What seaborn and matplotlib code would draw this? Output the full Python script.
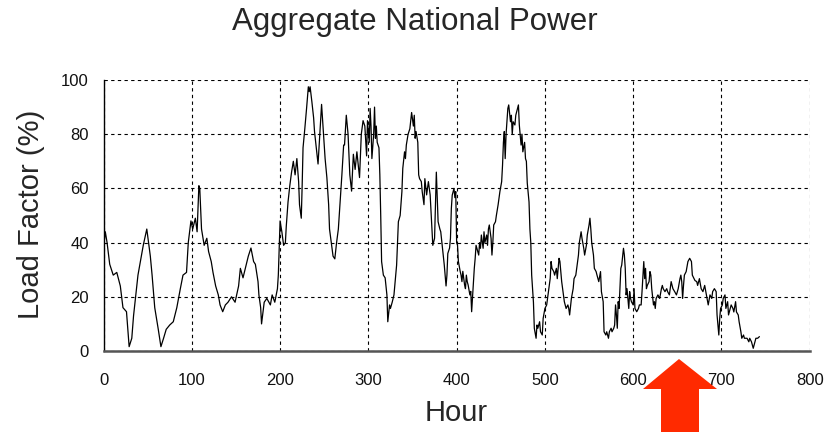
import matplotlib
matplotlib.use("Agg")
import matplotlib.pyplot as plt
from matplotlib.patches import Polygon
import seaborn as sns

# Hourly load factor (hour, %)
hours = [
    0, 2, 4, 7, 11, 15, 19, 22, 26, 29, 32, 34, 39, 45, 49, 53, 55, 58, 62, 65,
    68, 71, 75, 79, 83, 87, 90, 94, 96, 99, 101, 104, 106, 108, 109, 111, 114, 117, 119, 122,
    124, 127, 130, 132, 135, 138, 141, 145, 149, 153, 155, 158, 164, 167, 170, 172, 175, 176, 178, 179,
    182, 185, 189, 191, 194, 197, 198, 200, 202, 204, 206, 207, 209, 211, 213, 215, 217, 219, 221, 222,
    224, 225, 226, 228, 230, 232, 233, 234, 236, 238, 239, 241, 243, 245, 247, 249, 251, 253, 255, 256,
    258, 260, 262, 264, 266, 268, 270, 272, 273, 275, 277, 279, 281, 283, 285, 287, 289, 290, 292, 294,
    296, 298, 299, 301, 302, 303, 304, 306, 307, 308, 309, 310, 312, 313, 314, 315, 317, 319, 321, 322,
    324, 325, 327, 329, 331, 332, 334, 336, 338, 339, 341, 342, 343, 345, 347, 349, 351, 352, 353, 354,
    356, 357, 358, 360, 361, 363, 364, 366, 368, 370, 372, 373, 375, 377, 379, 381, 382, 384, 386, 387,
    388, 389, 390, 392, 393, 394, 395, 397, 398, 399, 400, 401, 402, 404, 405, 406, 407, 409, 410, 411,
    412, 413, 415, 416, 417, 419, 420, 421, 422, 424, 425, 426, 427, 428, 430, 431, 432, 434, 435, 436,
    437, 439, 440, 441, 442, 444, 445, 447, 449, 451, 452, 453, 454, 455, 456, 457, 458, 459, 461, 462,
    463, 464, 466, 467, 468, 470, 471, 473, 474, 475, 477, 478, 479, 480, 482, 483, 484, 485, 487, 488,
    490, 491, 492, 494, 495, 497, 498, 500, 502, 504, 506, 507, 508, 510, 511, 513, 514, 516, 517, 519,
    521, 522, 524, 526, 527, 528, 530, 532, 533, 535, 536, 538, 539, 541, 542, 544, 545, 547, 548, 550,
    551, 552, 553, 555, 556, 558, 559, 561, 563, 564, 566, 567, 569, 570, 572, 573, 575, 576, 578, 579,
    580, 581, 582, 583, 584, 586, 587, 589, 590, 591, 592, 593, 595, 596, 597, 598, 600, 601, 602, 604,
    606, 607, 609, 610, 612, 613, 614, 615, 616, 618, 619, 620, 621, 623, 624, 625, 626, 628, 630, 632,
    633, 634, 636, 638, 639, 641, 643, 645, 647, 649, 651, 653, 654, 655, 656, 657, 658, 660, 662, 664,
    666, 667, 669, 670, 672, 673, 675, 677, 679, 681, 683, 685, 687, 689, 690, 692, 694, 695, 697, 698,
    699, 701, 702, 704, 705, 707, 708, 710, 711, 713, 714, 716, 717, 719, 720, 722, 723, 725, 726, 728,
    729, 731, 732, 734, 736, 738, 739, 741, 743,
]
load_factor = [
    38, 44, 40, 32, 28, 29, 24, 16, 14.5, 1.6, 4.7, 13, 28, 39, 45, 35, 28, 16, 8, 1.6,
    4.7, 8, 9.6, 10.8, 16, 23, 28, 29, 40, 48, 45, 49, 44, 61, 60, 45, 39, 41.6, 36.7, 33,
    29, 24, 20.7, 17, 14.5, 17, 18, 20, 18, 24, 30.5, 27, 35, 38, 33, 32, 25.6, 20.7, 16, 10,
    18, 19.4, 17, 20.7, 18, 23, 28, 48, 44, 39, 40, 46, 55, 61, 66, 70, 65, 71, 62.5, 54,
    49, 61, 75, 82, 89.5, 97.5, 95.7, 97.5, 92, 86, 81, 75, 69, 80, 91, 81, 71, 64, 54, 45,
    40, 35, 34, 40, 45, 55, 65, 76, 76, 87, 80, 65, 59, 72.6, 67, 73.5, 67, 64, 80, 85,
    83, 72, 85, 77, 89.5, 83, 71, 80, 90, 78.5, 83, 77, 75, 65, 50, 33, 28, 27, 20.7, 10.8,
    17, 15.7, 18, 20.7, 28, 31.7, 47.7, 50, 58.8, 67.4, 73.5, 71, 76, 80, 82, 88, 83, 87, 78.5, 81,
    77, 65, 63.6, 62.5, 58.8, 54, 63.6, 57.6, 62.5, 57.6, 45, 39, 41.6, 66, 47.7, 45, 44, 38, 31.7, 28,
    24, 28, 36, 38, 41.6, 52.6, 57.5, 60, 56.6, 58.8, 40, 39, 33, 29.4, 28, 25.6, 29.4, 24.4, 23, 28,
    25.6, 24.4, 20.7, 22, 14.5, 25.6, 30.5, 34.2, 39, 36.7, 35.4, 40, 37.9, 42.8, 37.9, 44, 40, 42.8, 39, 45,
    46.5, 41.6, 35.4, 40, 46.5, 47.7, 50, 54, 58.8, 62.5, 68.6, 77, 81, 71, 80, 84.6, 89.5, 90.8, 84.6, 87,
    80, 84.6, 83.4, 87, 88.3, 90.8, 83.4, 76, 80, 73.5, 77, 71, 70, 62, 55, 45, 40, 28, 18, 8.4,
    4.7, 9.6, 8.4, 10.8, 7.1, 5.9, 12, 15.7, 17, 21.9, 26.8, 33, 30.5, 29.3, 28, 30.5, 26.7, 34.2, 33, 25.6,
    20.7, 18.2, 15.7, 17, 15.7, 13.3, 19.4, 23, 26.7, 28, 30.5, 35.4, 40, 44, 41.6, 37.9, 35.4, 39, 42.8, 46.5,
    49, 45, 40, 35.4, 30.5, 29.3, 28, 25.6, 29.3, 21.9, 18.2, 7.1, 5.9, 7.1, 4.7, 7.1, 8.4, 7.1, 8.4, 9.6,
    17, 13.3, 8.4, 18.2, 15.7, 30.5, 31.7, 37.9, 35.4, 30.5, 20.7, 23, 15.7, 21.9, 19.4, 18.2, 17, 23, 15.7, 14.5,
    15.7, 17, 17, 21.9, 33, 26.7, 30.5, 23, 24.2, 25.6, 29.3, 28, 23, 17, 18.2, 15.7, 19.4, 20.7, 19.4, 23,
    24.2, 23, 21.9, 23, 21.9, 20.7, 25.6, 23, 21.9, 20.7, 23, 26.7, 28, 25.6, 19.4, 24.2, 28, 29.3, 33, 34.2,
    33, 28, 26.7, 26, 25.6, 24.2, 26.7, 23, 21.9, 24.2, 20.7, 17, 20.7, 19.4, 21.9, 23, 21.9, 13.3, 5.9, 12,
    15.7, 17, 19.4, 20.7, 15.7, 18.2, 13.3, 15.7, 17, 15.7, 14.4, 18.2, 14.4, 13.3, 10.8, 7.1, 4.7, 5.9, 4.7, 4.7,
    4.7, 3.4, 4.7, 3.4, 1, 3.4, 4.7, 4.7, 5.3,
]

x_ticks = [0, 100, 200, 300, 400, 500, 600, 700, 800]
y_ticks = [0, 20, 40, 60, 80, 100]

sns.set_style("white")
plt.rcParams["font.family"] = ["Liberation Sans", "DejaVu Sans"]

fig = plt.figure(figsize=(8.25, 4.32), dpi=100)
ax = fig.add_axes([0.1255, 0.1875, 0.856, 0.6273])

sns.lineplot(x=hours, y=load_factor, color="black", linewidth=0.9, ax=ax)

ax.set_xlim(0, 800)
ax.set_ylim(0, 100)
ax.set_xticks(x_ticks)
ax.set_yticks(y_ticks)
ax.tick_params(direction="inout", length=9, width=1, color="black",
               labelsize=12, labelcolor="#111111")
ax.tick_params(axis="x", pad=11)
ax.tick_params(axis="y", pad=6)

# dotted grid, also closing the box at top and right
ax.grid(True, color="black", linestyle=(0, (3, 3)), linewidth=0.8)
ax.spines["top"].set_visible(False)
ax.spines["right"].set_visible(False)
ax.spines["left"].set_color("black")
ax.spines["left"].set_linewidth(1)
ax.spines["bottom"].set_color("#555555")
ax.spines["bottom"].set_linewidth(1.8)

ax.set_xlabel("Hour", fontsize=21, va="center")
ax.xaxis.set_label_coords(0.5, -0.229)
ax.set_ylabel("Load Factor (%)", fontsize=21, va="center")
ax.yaxis.set_label_coords(-0.103, 0.505)

fig.suptitle("Aggregate National Power", x=415 / 825, y=1 - 22 / 432,
             va="center", fontsize=22.5)

# red callout arrow below the axis
W, H = 825, 432
arrow_px = [(679, 359), (717, 389), (699, 389), (699, 432),
            (661, 432), (661, 389), (643, 389)]
arrow = Polygon([(x / W, 1 - y / H) for x, y in arrow_px], closed=True,
                transform=fig.transFigure, facecolor="#ff2a00",
                edgecolor="none", clip_on=False)
fig.patches.append(arrow)

fig.savefig("out.png", dpi=100)
